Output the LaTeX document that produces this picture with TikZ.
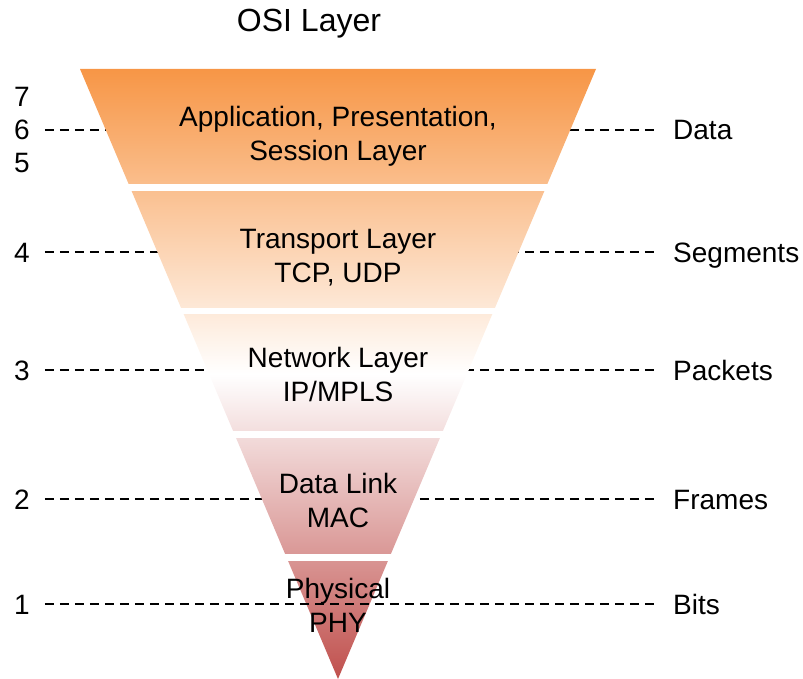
\documentclass[tikz,border=0pt]{standalone}
\usepackage{fontspec}
\setmainfont{Liberation Sans}
\usetikzlibrary{positioning}
\definecolor{osiorange}{RGB}{247,150,70}
\definecolor{osired}{RGB}{192,80,77}
\tikzset{
    x=1pt,
    y=-1pt,
    layertext/.style = {
        align=center,
        inner sep=0pt,
        font=\fontsize{28}{34}\selectfont
    },
    number/.style = {
        inner sep=0pt,
        text height=20pt,
        text depth=0pt,
        font=\fontsize{28}{34}\selectfont
    },
    unit/.style = {
        anchor=west,
        inner sep=0pt,
        text height=20pt,
        text depth=0pt,
        font=\fontsize{28}{34}\selectfont
    },
    title/.style = {
        font=\fontsize{32}{36}\selectfont
    },
    dashline/.style = {
        draw,
        dash pattern=on 9pt off 6pt,
        line width=2pt,
        shorten <=15pt,
        shorten >=15pt
    },
    gap/.style = {
        fill=white
    },
}

\begin{document}
\begin{tikzpicture}
                \useasboundingbox (0,0) rectangle (803,679);

                \node[title] (title) at (309,24) {OSI Layer};

                % layer numbers
                \node[number] (n7) at (22,97) {7};
                \node[number] (n6) at (22,130) {6};
                \node[number] (n5) at (22,163) {5};
                \node[number] (n4) at (22,252) {4};
                \node[number] (n3) at (22,370) {3};
                \node[number] (n2) at (22,499) {2};
                \node[number] (n1) at (22,604) {1};

                % data units
                \node[unit] (data) at (673,130) {Data};
                \node[unit] (segments) at (673,252) {Segments};
                \node[unit] (packets) at (673,370) {Packets};
                \node[unit] (frames) at (673,499) {Frames};
                \node[unit] (bits) at (673,604) {Bits};

                \path[dashline] (n6) -- (data);
                \path[dashline] (n4) -- (segments);
                \path[dashline] (n3) -- (packets);
                \path[dashline] (n2) -- (frames);

                % the funnel
                \shade[top color=osiorange, bottom color=osired, middle color=white]
                    (80,69) -- (596,69) -- (338,679) -- cycle;
                \fill[gap] (70,184) rectangle (606,191);
                \fill[gap] (70,308) rectangle (606,314);
                \fill[gap] (70,431) rectangle (606,438);
                \fill[gap] (70,554) rectangle (606,561);

                \path[dashline] (n1) -- (bits);

                \node[layertext] (app) at (338,136) {Application, Presentation,\\Session Layer};
                \node[layertext] (transport) at (338,258) {Transport Layer\\TCP, UDP};
                \node[layertext] (network) at (338,374) {Network Layer\\IP/MPLS};
                \node[layertext] (link) at (338,500) {Data Link\\MAC};
                \node[layertext] (phy) at (338,605) {Physical\\PHY};
\end{tikzpicture}
\end{document}
